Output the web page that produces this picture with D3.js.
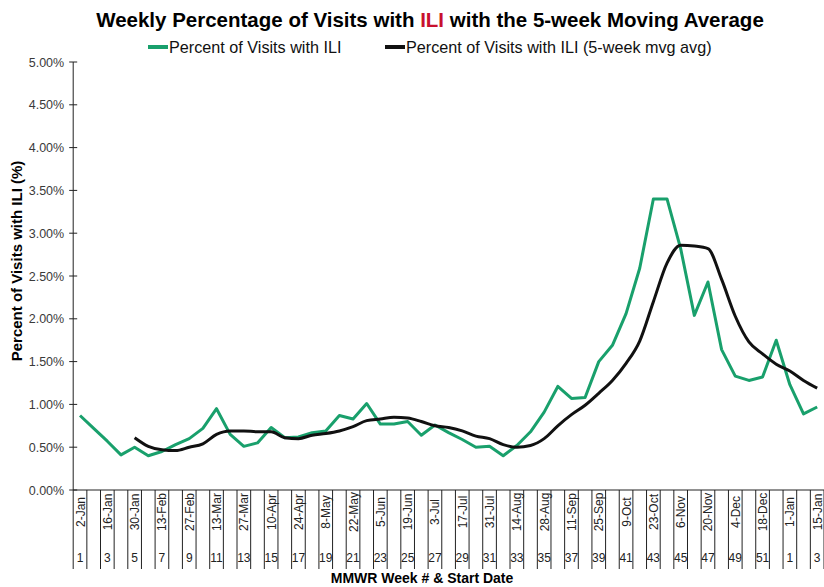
<!DOCTYPE html>
<html>
<head>
<meta charset="utf-8">
<script src="https://cdn.jsdelivr.net/npm/d3@7"></script>
<style>
  body { margin: 0; background: #fff; }
  svg { display: block; }
</style>
</head>
<body>
<svg id="chart" width="824" height="587"></svg>
<script>
// week start dates (one per MMWR week)
weekStart = ["2-Jan","9-Jan","16-Jan","23-Jan","30-Jan","6-Feb","13-Feb","20-Feb","27-Feb","6-Mar",
  "13-Mar","20-Mar","27-Mar","3-Apr","10-Apr","17-Apr","24-Apr","1-May","8-May","15-May",
  "22-May","29-May","5-Jun","12-Jun","19-Jun","26-Jun","3-Jul","10-Jul","17-Jul","24-Jul",
  "31-Jul","7-Aug","14-Aug","21-Aug","28-Aug","4-Sep","11-Sep","18-Sep","25-Sep","2-Oct",
  "9-Oct","16-Oct","23-Oct","30-Oct","6-Nov","13-Nov","20-Nov","27-Nov","4-Dec","11-Dec",
  "18-Dec","25-Dec","1-Jan","8-Jan","15-Jan"];
weekNum = [1,2,3,4,5,6,7,8,9,10,11,12,13,14,15,16,17,18,19,20,21,22,23,24,25,26,27,28,29,30,
  31,32,33,34,35,36,37,38,39,40,41,42,43,44,45,46,47,48,49,50,51,52,1,2,3];

// percent of visits with ILI
iliPct = [0.87,0.72,0.57,0.41,0.50,0.40,0.45,0.53,0.60,0.72,
  0.95,0.65,0.51,0.55,0.73,0.61,0.62,0.67,0.69,0.87,
  0.83,1.01,0.77,0.77,0.80,0.64,0.76,0.67,0.59,0.50,
  0.51,0.40,0.52,0.68,0.91,1.21,1.07,1.08,1.50,1.69,
  2.06,2.59,3.40,3.40,2.82,2.04,2.43,1.64,1.33,1.28,
  1.32,1.75,1.23,0.89,0.97];

// 5-week moving average (starts at week 5)
mvgAvg = [null,null,null,null,0.61,0.51,0.47,0.46,0.50,0.54,
  0.65,0.69,0.69,0.68,0.68,0.61,0.60,0.64,0.66,0.69,
  0.74,0.81,0.83,0.85,0.84,0.80,0.75,0.73,0.69,0.63,
  0.60,0.53,0.50,0.52,0.60,0.75,0.88,0.99,1.13,1.28,
  1.48,1.74,2.20,2.65,2.86,2.85,2.82,2.46,2.03,1.73,
  1.59,1.47,1.39,1.28,1.19];

yTicks = [0,0.5,1,1.5,2,2.5,3,3.5,4,4.5,5];

let svg = d3.select("#chart");

let plotLeft = 73.2, plotRight = 824, plotTop = 62, plotBottom = 490;
let green = "#19a06c";
let narrow = "'Liberation Sans Narrow', 'Arial Narrow', 'Liberation Sans', Arial, sans-serif";
let sans = "'Liberation Sans', Arial, sans-serif";

let xScale = d3.scaleBand()
  .domain(d3.range(weekStart.length))
  .range([plotLeft, plotRight])
  .padding(0);

let yScale = d3.scaleLinear().domain([0, 5]).range([plotBottom, plotTop]);

let cx = (i) => xScale(i) + xScale.bandwidth() / 2;

// title
let title = svg.append("text")
  .attr("x", 430).attr("y", 27)
  .attr("text-anchor", "middle")
  .style("font-family", narrow)
  .style("font-weight", "bold")
  .style("font-size", "20.5px")
  .attr("fill", "#000");
title.append("tspan").text("Weekly Percentage of Visits with ");
title.append("tspan").attr("fill", "#c8102e").text("ILI");
title.append("tspan").text(" with the 5-week Moving Average");

// legend
let legend = [
  { label: "Percent of Visits with ILI", color: green, x: 148 },
  { label: "Percent of Visits with ILI (5-week mvg avg)", color: "#111", x: 385 },
];
legend.forEach((d) => {
  svg.append("line")
    .attr("x1", d.x).attr("x2", d.x + 20)
    .attr("y1", 47).attr("y2", 47)
    .attr("stroke", d.color).attr("stroke-width", 4);
  svg.append("text")
    .attr("x", d.x + 21).attr("y", 52.5)
    .style("font-family", narrow)
    .style("font-size", "16.2px")
    .attr("fill", "#111")
    .text(d.label);
});

// y axis
svg.append("line")
  .attr("x1", plotLeft).attr("x2", plotLeft)
  .attr("y1", plotTop).attr("y2", plotBottom)
  .attr("stroke", "#222").attr("stroke-width", 1);

yTicks.forEach((t) => {
  svg.append("line")
    .attr("x1", plotLeft - 4).attr("x2", plotLeft + 4)
    .attr("y1", yScale(t)).attr("y2", yScale(t))
    .attr("stroke", "#222");
  svg.append("text")
    .attr("x", plotLeft - 9).attr("y", yScale(t) + 4.5)
    .attr("text-anchor", "end")
    .style("font-family", sans)
    .style("font-size", "12.5px")
    .attr("fill", "#3a3a3a")
    .text(t.toFixed(2) + "%");
});

svg.append("text")
  .attr("transform", "translate(22,261) rotate(-90)")
  .attr("text-anchor", "middle")
  .style("font-family", sans)
  .style("font-weight", "bold")
  .style("font-size", "15px")
  .text("Percent of Visits with ILI (%)");

// x axis
svg.append("line")
  .attr("x1", plotLeft).attr("x2", plotRight)
  .attr("y1", plotBottom).attr("y2", plotBottom)
  .attr("stroke", "#222");

d3.range(weekStart.length + 1).forEach((i) => {
  let xb = i < weekStart.length ? xScale(i) : plotRight;
  svg.append("line")
    .attr("x1", xb).attr("x2", xb)
    .attr("y1", plotBottom).attr("y2", 569)
    .attr("stroke", "#222");
});

weekStart.forEach((d, i) => {
  if (i % 2 != 0) return;
  svg.append("text")
    .attr("transform", "translate(" + (cx(i) + 4.5) + ",512) rotate(-90)")
    .attr("text-anchor", "middle")
    .style("font-family", sans)
    .style("font-size", "12px")
    .attr("fill", "#222")
    .text(d);
  svg.append("text")
    .attr("x", cx(i)).attr("y", 562)
    .attr("text-anchor", "middle")
    .style("font-family", sans)
    .style("font-size", "12px")
    .attr("fill", "#222")
    .text(weekNum[i]);
});

svg.append("text")
  .attr("x", 422).attr("y", 583)
  .attr("text-anchor", "middle")
  .style("font-family", sans)
  .style("font-weight", "bold")
  .style("font-size", "14px")
  .text("MMWR Week # & Start Date");

// lines
let greenLine = d3.line()
  .x((d, i) => cx(i))
  .y((d) => yScale(d));

svg.append("path")
  .datum(iliPct)
  .attr("fill", "none")
  .attr("stroke", green)
  .attr("stroke-width", 3)
  .attr("stroke-linejoin", "round")
  .attr("d", greenLine);

let avgLine = d3.line()
  .defined((d) => d != null)
  .curve(d3.curveMonotoneX)
  .x((d, i) => cx(i))
  .y((d) => yScale(d));

svg.append("path")
  .datum(mvgAvg)
  .attr("fill", "none")
  .attr("stroke", "#111")
  .attr("stroke-width", 3)
  .attr("d", avgLine);
</script>
</body>
</html>
